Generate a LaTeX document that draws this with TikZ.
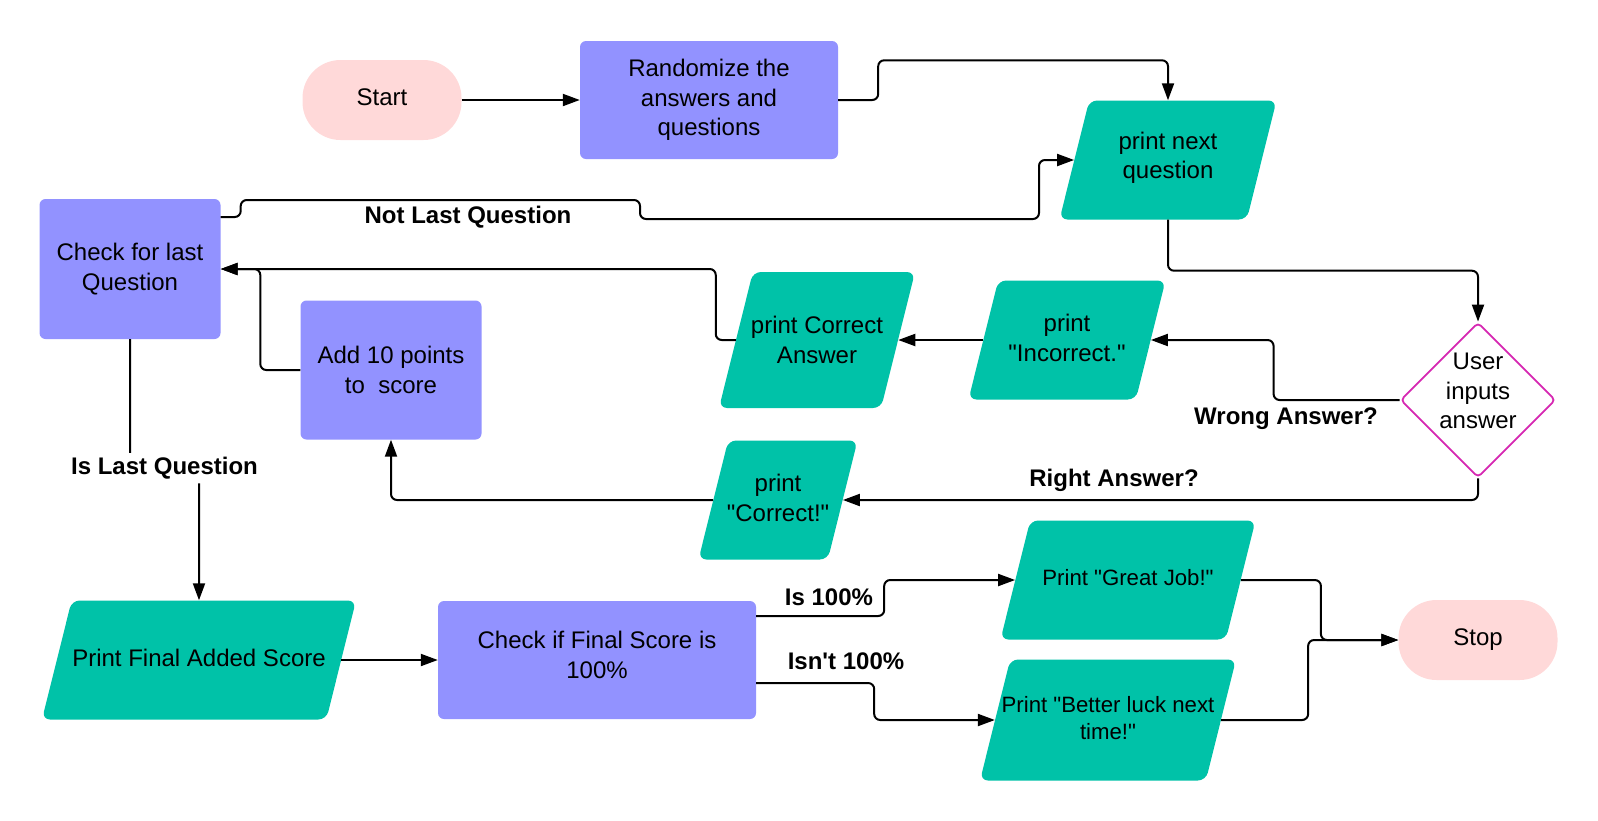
\documentclass[tikz,border=0pt]{standalone}
\usepackage{fontspec}
\setmainfont{Liberation Sans}[Ligatures=TeXOff]
\usetikzlibrary{arrows.meta, positioning, shapes.geometric, shapes.misc}

\definecolor{procblue}{RGB}{146,146,255}
\definecolor{ioteal}{RGB}{0,194,168}
\definecolor{termpink}{RGB}{255,217,217}
\definecolor{decmagenta}{RGB}{214,40,178}

\begin{document}
\begin{tikzpicture}[x=1pt, y=-1pt,
            boxtext/.style={font=\fontsize{24}{29.5}\selectfont, align=center, inner sep=4pt},
            small text/.style={boxtext, font=\fontsize{22.2}{27}\selectfont},
            terminal/.style={boxtext, fill=termpink, rounded corners=38pt, minimum width=159pt, minimum height=80pt},
            process/.style={boxtext, fill=procblue, rounded corners=6pt, minimum width=181pt, minimum height=139pt},
            io/.style={trapezium, trapezium left angle=76, trapezium right angle=104,
                       trapezium stretches body=true, fill=ioteal, rounded corners=8pt,
                       inner xsep=0pt, inner ysep=59.5pt},
            decision/.style={diamond, aspect=1, draw=decmagenta, line width=1.8pt, fill=white,
                             rounded corners=4pt, minimum width=155pt, minimum height=155pt},
            flow/.style={-{Triangle[length=17pt, width=12pt]}, line width=2pt, rounded corners=6pt},
            cond/.style={font=\fontsize{24}{29.5}\selectfont\bfseries, inner sep=4pt}]

            \useasboundingbox (0,0) rectangle (1598,820);

            % Steps
            \node[terminal, text depth=5pt] (start) at (382,100) {Start};
            \node[process, minimum width=258pt, minimum height=118pt] (shuffle) at (709,100) {Randomize the\\answers and\\questions};
            \node[io, minimum width=217pt,
                  label={[boxtext, name=nextq-text, yshift=2pt]center:{print next\\question}}] (nextq) at (1168,160) {};
            \node[process, minimum height=140pt] (lastq) at (130,269) {Check for last\\Question};
            \node[process] (addpts) at (391,370) {Add 10 points\\to\ \ score};
            \node[io, minimum width=196pt, inner ysep=68pt,
                  label={[boxtext, name=showans-text]center:{print Correct\\Answer}}] (showans) at (817,340) {};
            \node[io, minimum width=197pt,
                  label={[boxtext, name=wrong-text, yshift=2pt]center:{print\\"Incorrect."}}] (wrong) at (1067,340) {};
            \node[decision,
                  label={[boxtext, name=answer-text, yshift=9pt]center:{User\\inputs\\answer}}] (answer) at (1478,400) {};
            \node[io, minimum width=159pt,
                  label={[boxtext, name=right-text, yshift=2pt]center:{print\\"Correct!"}}] (right) at (778,500) {};
            \node[io, minimum width=314pt,
                  label={[boxtext, name=final-text, yshift=2pt]center:{Print Final Added Score}}] (final) at (199,660) {};
            \node[process, minimum width=318pt, minimum height=118pt, text depth=10pt] (perfect) at (597,660) {Check if Final Score is\\100\%};
            \node[io, minimum width=255pt,
                  label={[small text, name=great-text, yshift=2pt]center:{Print "Great Job!"}}] (great) at (1128,580) {};
            \node[io, minimum width=256pt, inner ysep=60.5pt,
                  label={[small text, name=better-text, yshift=2pt]center:{Print "Better luck next\\time!"}}] (better) at (1108,720) {};
            \node[terminal, text depth=5pt] (stop) at (1478,640) {Stop};

            % Main loop
            \draw[flow] (start.east) -- (shuffle.west);
            \draw[flow] (shuffle.east) -- ++(40,0) |- ([yshift=40pt]nextq.north) -- (nextq.north);
            \draw[flow] (nextq.south) -- ++(0,51) -| (answer.north);
            \draw[flow] ([yshift=52pt]lastq.east) -- ++(20,0) |- (640,200) |- (1039,219) |- (nextq.left side);
            \node[cond] (notlast) at (468,217) {Not Last Question};

            % Wrong answer branch
            \draw[flow] (answer.west) -- ++(-126,0) |- (wrong.right side);
            \draw[flow] (wrong.left side) -- (showans.right side);
            \draw[flow] (showans.left side) -- ++(-20,0) |- (lastq.east);
            \node[cond] (wronglbl) at (1286,419) {Wrong Answer?};

            % Right answer branch
            \draw[flow] (answer.south) |- (right.right side);
            \draw[flow] (right.left side) -| (addpts.south);
            \draw[flow] (addpts.west) -- ++(-40,0) |- (lastq.east);
            \node[cond] (rightlbl) at (1114,480) {Right Answer?};

            % Final score
            \draw[flow] (lastq.south) -- ++(0,129) -- node[cond, fill=white] (islast) {Is Last Question} ++(69,0) -- (final.north);
            \draw[flow] (final.right side) -- (perfect.west);
            \draw[flow] ([yshift=44pt]perfect.east) -- ++(128,0) |- (great.left side);
            \draw[flow] ([yshift=-23pt]perfect.east) -- ++(118,0) |- (better.left side);
            \node[cond] (full) at (829,597) {Is 100\%};
            \node[cond] (notfull) at (846,661) {Isn't 100\%};
            \draw[flow] (great.right side) -- ++(80,0) |- (stop.west);
            \draw[flow] (better.right side) -- ++(87,0) |- (stop.west);
\end{tikzpicture}
\end{document}
